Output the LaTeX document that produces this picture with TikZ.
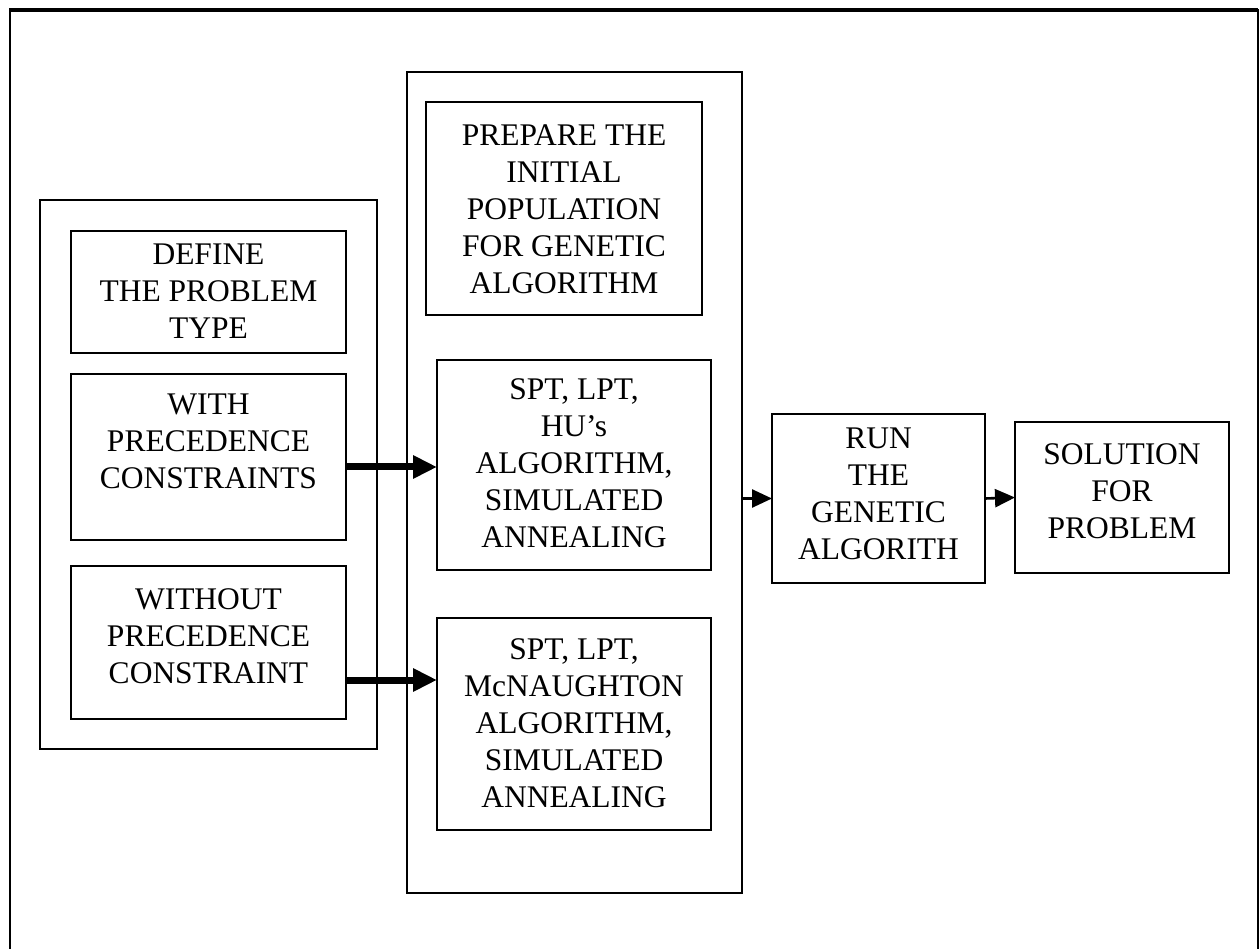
\documentclass[tikz,border=0pt]{standalone}
\usepackage{fontspec}
\setmainfont{Liberation Serif}
\usetikzlibrary{arrows.meta}
\begin{document}
\begin{tikzpicture}[x=1pt,y=-1pt,
  box/.style={draw,line width=2.6pt,rectangle,inner sep=0pt,outer sep=0pt},
  lbl/.style={anchor=north,inner sep=0pt,align=center,
    font=\fontsize{31.5}{37}\selectfont},
  bigarrow/.style={line width=7pt,-{Triangle[length=24pt,width=22pt]}},
  smallarrow/.style={line width=2.6pt,-{Triangle[length=20pt,width=18pt]}}]
\useasboundingbox (0,0) rectangle (1259,949);

% page frame, open at the bottom
\draw[line width=2pt] (10,960) -- (10,10) -- (1258,10) -- (1258,960);
\draw[line width=3.5pt] (9,10) -- (1258,10);

% left group: problem definition
\node[box,minimum width=337pt,minimum height=549pt] (leftgroup) at (208.5,474.5) {};
\node[box,minimum width=275pt,minimum height=122pt] (define) at (208.5,292) {};
\node[box,minimum width=275pt,minimum height=166pt] (with) at (208.5,457) {};
\node[box,minimum width=275pt,minimum height=153pt] (without) at (208.5,642.5) {};

% middle group: initial population
\node[box,minimum width=335pt,minimum height=821pt] (midgroup) at (574.5,482.5) {};
\node[box,minimum width=276pt,minimum height=213pt] (prepare) at (564,208.5) {};
\node[box,minimum width=274pt,minimum height=210pt] (spta) at (574,465) {};
\node[box,minimum width=274pt,minimum height=212pt] (sptb) at (574,724) {};

% right part
\node[box,minimum width=213pt,minimum height=169pt] (run) at (878.5,498.5) {};
\node[box,minimum width=214pt,minimum height=151pt] (solution) at (1122,497.5) {};

% labels
\node[lbl] (defineT) at ([yshift=-13pt]define.north) {DEFINE\\THE PROBLEM\\TYPE};
\node[lbl] (withT) at ([yshift=-20pt]with.north) {WITH\\PRECEDENCE\\CONSTRAINTS};
\node[lbl] (withoutT) at ([yshift=-22pt]without.north) {WITHOUT\\PRECEDENCE\\CONSTRAINT};
\node[lbl] (prepareT) at ([yshift=-23pt]prepare.north) {PREPARE THE\\INITIAL\\POPULATION\\FOR GENETIC\\ALGORITHM};
\node[lbl] (sptaT) at ([yshift=-18pt]spta.north) {SPT, LPT,\\HU’s\\ALGORITHM,\\SIMULATED\\ANNEALING};
\node[lbl] (sptbT) at ([yshift=-20pt]sptb.north) {SPT, LPT,\\McNAUGHTON\\ALGORITHM,\\SIMULATED\\ANNEALING};
\node[lbl] (runT) at ([yshift=-14pt]run.north) {RUN\\THE\\GENETIC\\ALGORITH};
\node[lbl] (solutionT) at ([yshift=-21pt]solution.north) {SOLUTION\\FOR\\PROBLEM};

% connectors
\coordinate (wa) at ([yshift=-10pt]with.east);
\coordinate (wb) at ([yshift=-37.5pt]without.east);
\draw[bigarrow] (wa) -- (wa -| spta.west);
\draw[bigarrow] (wb) -- (wb -| sptb.west);
\draw[smallarrow] (run.west -| midgroup.east) -- (run.west);
\draw[smallarrow] (run.east) -- (solution.west);
\end{tikzpicture}
\end{document}
